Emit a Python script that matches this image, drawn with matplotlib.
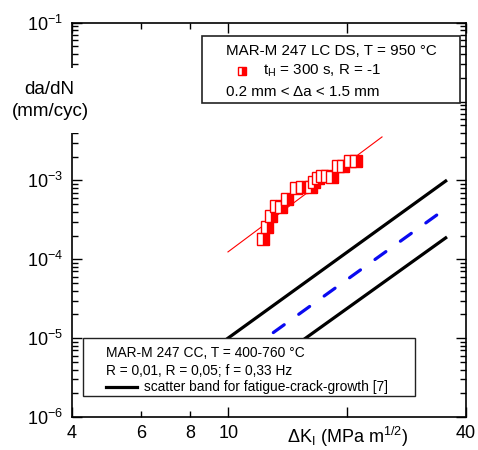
import matplotlib.pyplot as plt
from matplotlib.lines import Line2D
from matplotlib.patches import Rectangle
from matplotlib.ticker import NullFormatter

plt.rcParams['font.family'] = ['Liberation Sans', 'DejaVu Sans']
plt.rcParams['mathtext.fontset'] = 'custom'
plt.rcParams['mathtext.rm'] = 'Liberation Sans'
plt.rcParams['mathtext.it'] = 'Liberation Sans:italic'

# crack growth rate, MAR-M 247 LC DS, t_H = 300 s, R = -1
dk_meas = [12.2, 12.5, 12.8, 13.2, 13.6, 14.1, 14.8, 15.4, 16.2, 16.5,
           16.9, 17.3, 17.8, 18.3, 18.9, 19.5, 20.3, 21.05]
dadn_meas = [1.79e-4, 2.54e-4, 3.5e-4, 4.72e-4, 4.6e-4, 5.88e-4, 7.93e-4, 8.15e-4, 8.34e-4, 9.6e-4,
             1.06e-3, 1.13e-3, 1.14e-3, 1.12e-3, 1.53e-3, 1.52e-3, 1.77e-3, 1.77e-3]

# power-law fit through the measured points
dk_fit = [9.97, 24.5]
dadn_fit = [1.24e-4, 3.56e-3]

# scatter band MAR-M 247 CC (upper, mean, lower)
dk_band_hi = [9.0, 35.8]
dadn_band_hi = [6.9e-6, 1.01e-3]
dk_band_mid = [11.2, 34.6]
dadn_band_mid = [6.9e-6, 3.99e-4]
dk_band_lo = [14.2, 35.8]
dadn_band_lo = [7.0e-6, 1.92e-4]

x_ticks = [4, 10, 20, 40]
x_labels = ['4', '10', 'ΔK$_{\\rm I}$ (MPa m$^{\\rm 1/2}$)', '40']
x_minor = [6, 8]
x_minor_labels = ['6', '8']
y_ticks = [1e-6, 1e-5, 1e-4, 1e-3, 1e-2, 1e-1]
y_labels = ['$\\mathregular{10^{-6}}$', '$\\mathregular{10^{-5}}$', '$\\mathregular{10^{-4}}$',
            '$\\mathregular{10^{-3}}$', '', '$\\mathregular{10^{-1}}$']

W, H = 478, 450


def fx(px):
    return px / W


def fy(py):
    return 1 - py / H


fig = plt.figure(figsize=(W / 100, H / 100), dpi=100)
ax = fig.add_axes([fx(71.5), fy(417), 394.5 / W, 394.3 / H])

ax.plot(dk_band_hi, dadn_band_hi, color='black', lw=2.3, solid_capstyle='butt')
ax.plot(dk_band_lo, dadn_band_lo, color='black', lw=2.3, solid_capstyle='butt')
mid, = ax.plot(dk_band_mid, dadn_band_mid, color='#0a0af0', lw=2.3, dash_capstyle='round')
mid.set_dashes([4.2, 5.6])

ax.plot(dk_fit, dadn_fit, color='red', lw=0.8)
ax.plot(dk_meas, dadn_meas, ls='none', marker='s', ms=8, mew=1.0,
        mec='red', mfc='red', fillstyle='right', markerfacecoloralt='white')

ax.set_xscale('log')
ax.set_yscale('log')
ax.set_xlim(4, 40)
ax.set_ylim(1e-6, 1e-1)

ax.set_xticks(x_ticks)
ax.set_xticklabels(x_labels)
ax.set_xticks(x_minor, minor=True)
ax.set_xticklabels(x_minor_labels, minor=True)

ax.set_yticks(y_ticks)
ax.set_yticklabels(y_labels)
ax.yaxis.set_minor_formatter(NullFormatter())

ax.tick_params(which='both', direction='in', top=True, right=True, width=1.0, labelsize=13)
ax.tick_params(which='major', length=7)
ax.tick_params(which='minor', length=4)
ax.tick_params(axis='x', which='both', pad=6)
ax.tick_params(axis='y', which='both', pad=6)
for sp in ax.spines.values():
    sp.set_linewidth(1.2)

# y label sits in a white gap cut into the left axis
fig.add_artist(Rectangle((fx(6), fy(133)), fx(92) - fx(6), fy(68) - fy(133),
                         transform=fig.transFigure, facecolor='white', edgecolor='none', zorder=2))
fig.text(fx(49), fy(89), 'da/dN', ha='center', va='center', fontsize=13.5, zorder=3)
fig.text(fx(50), fy(112), '(mm/cyc)', ha='center', va='center', fontsize=13.5, zorder=3)

# upper info box
ax.add_patch(Rectangle((fx(202), fy(103)), fx(460) - fx(202), fy(36) - fy(103),
                       transform=fig.transFigure, facecolor='white', edgecolor='#222222',
                       lw=1.2, zorder=5, clip_on=False))
ax.text(fx(226), fy(51), 'MAR-M 247 LC DS, T = 950 °C', transform=fig.transFigure,
        ha='left', va='center', fontsize=10.9, zorder=6)
ax.add_line(Line2D([fx(242)], [fy(71)], transform=fig.transFigure, ls='none', marker='s', ms=6,
                   mew=1.0, mec='red', mfc='red', fillstyle='right', markerfacecoloralt='white',
                   zorder=6, clip_on=False))
ax.text(fx(263), fy(71), 't$_{\\rm H}$ = 300 s, R = -1', transform=fig.transFigure,
        ha='left', va='center', fontsize=10.9, zorder=6)
ax.text(fx(226), fy(92), '0.2 mm < Δa < 1.5 mm', transform=fig.transFigure,
        ha='left', va='center', fontsize=10.9, zorder=6)

# lower info box
ax.add_patch(Rectangle((fx(83), fy(396)), fx(415) - fx(83), fy(338) - fy(396),
                       transform=fig.transFigure, facecolor='white', edgecolor='#222222',
                       lw=1.0, zorder=5, clip_on=False))
ax.text(fx(106), fy(353), 'MAR-M 247 CC, T = 400-760 °C', transform=fig.transFigure,
        ha='left', va='center', fontsize=9.9, zorder=6)
ax.text(fx(106), fy(371), 'R = 0,01, R = 0,05; f = 0,33 Hz', transform=fig.transFigure,
        ha='left', va='center', fontsize=9.9, zorder=6)
ax.add_line(Line2D([fx(106), fx(137)], [fy(387), fy(387)], transform=fig.transFigure,
                   color='black', lw=2.3, zorder=6, clip_on=False))
ax.text(fx(144), fy(387), 'scatter band for fatigue-crack-growth [7]', transform=fig.transFigure,
        ha='left', va='center', fontsize=9.9, zorder=6)

fig.savefig('out.png', dpi=100)
